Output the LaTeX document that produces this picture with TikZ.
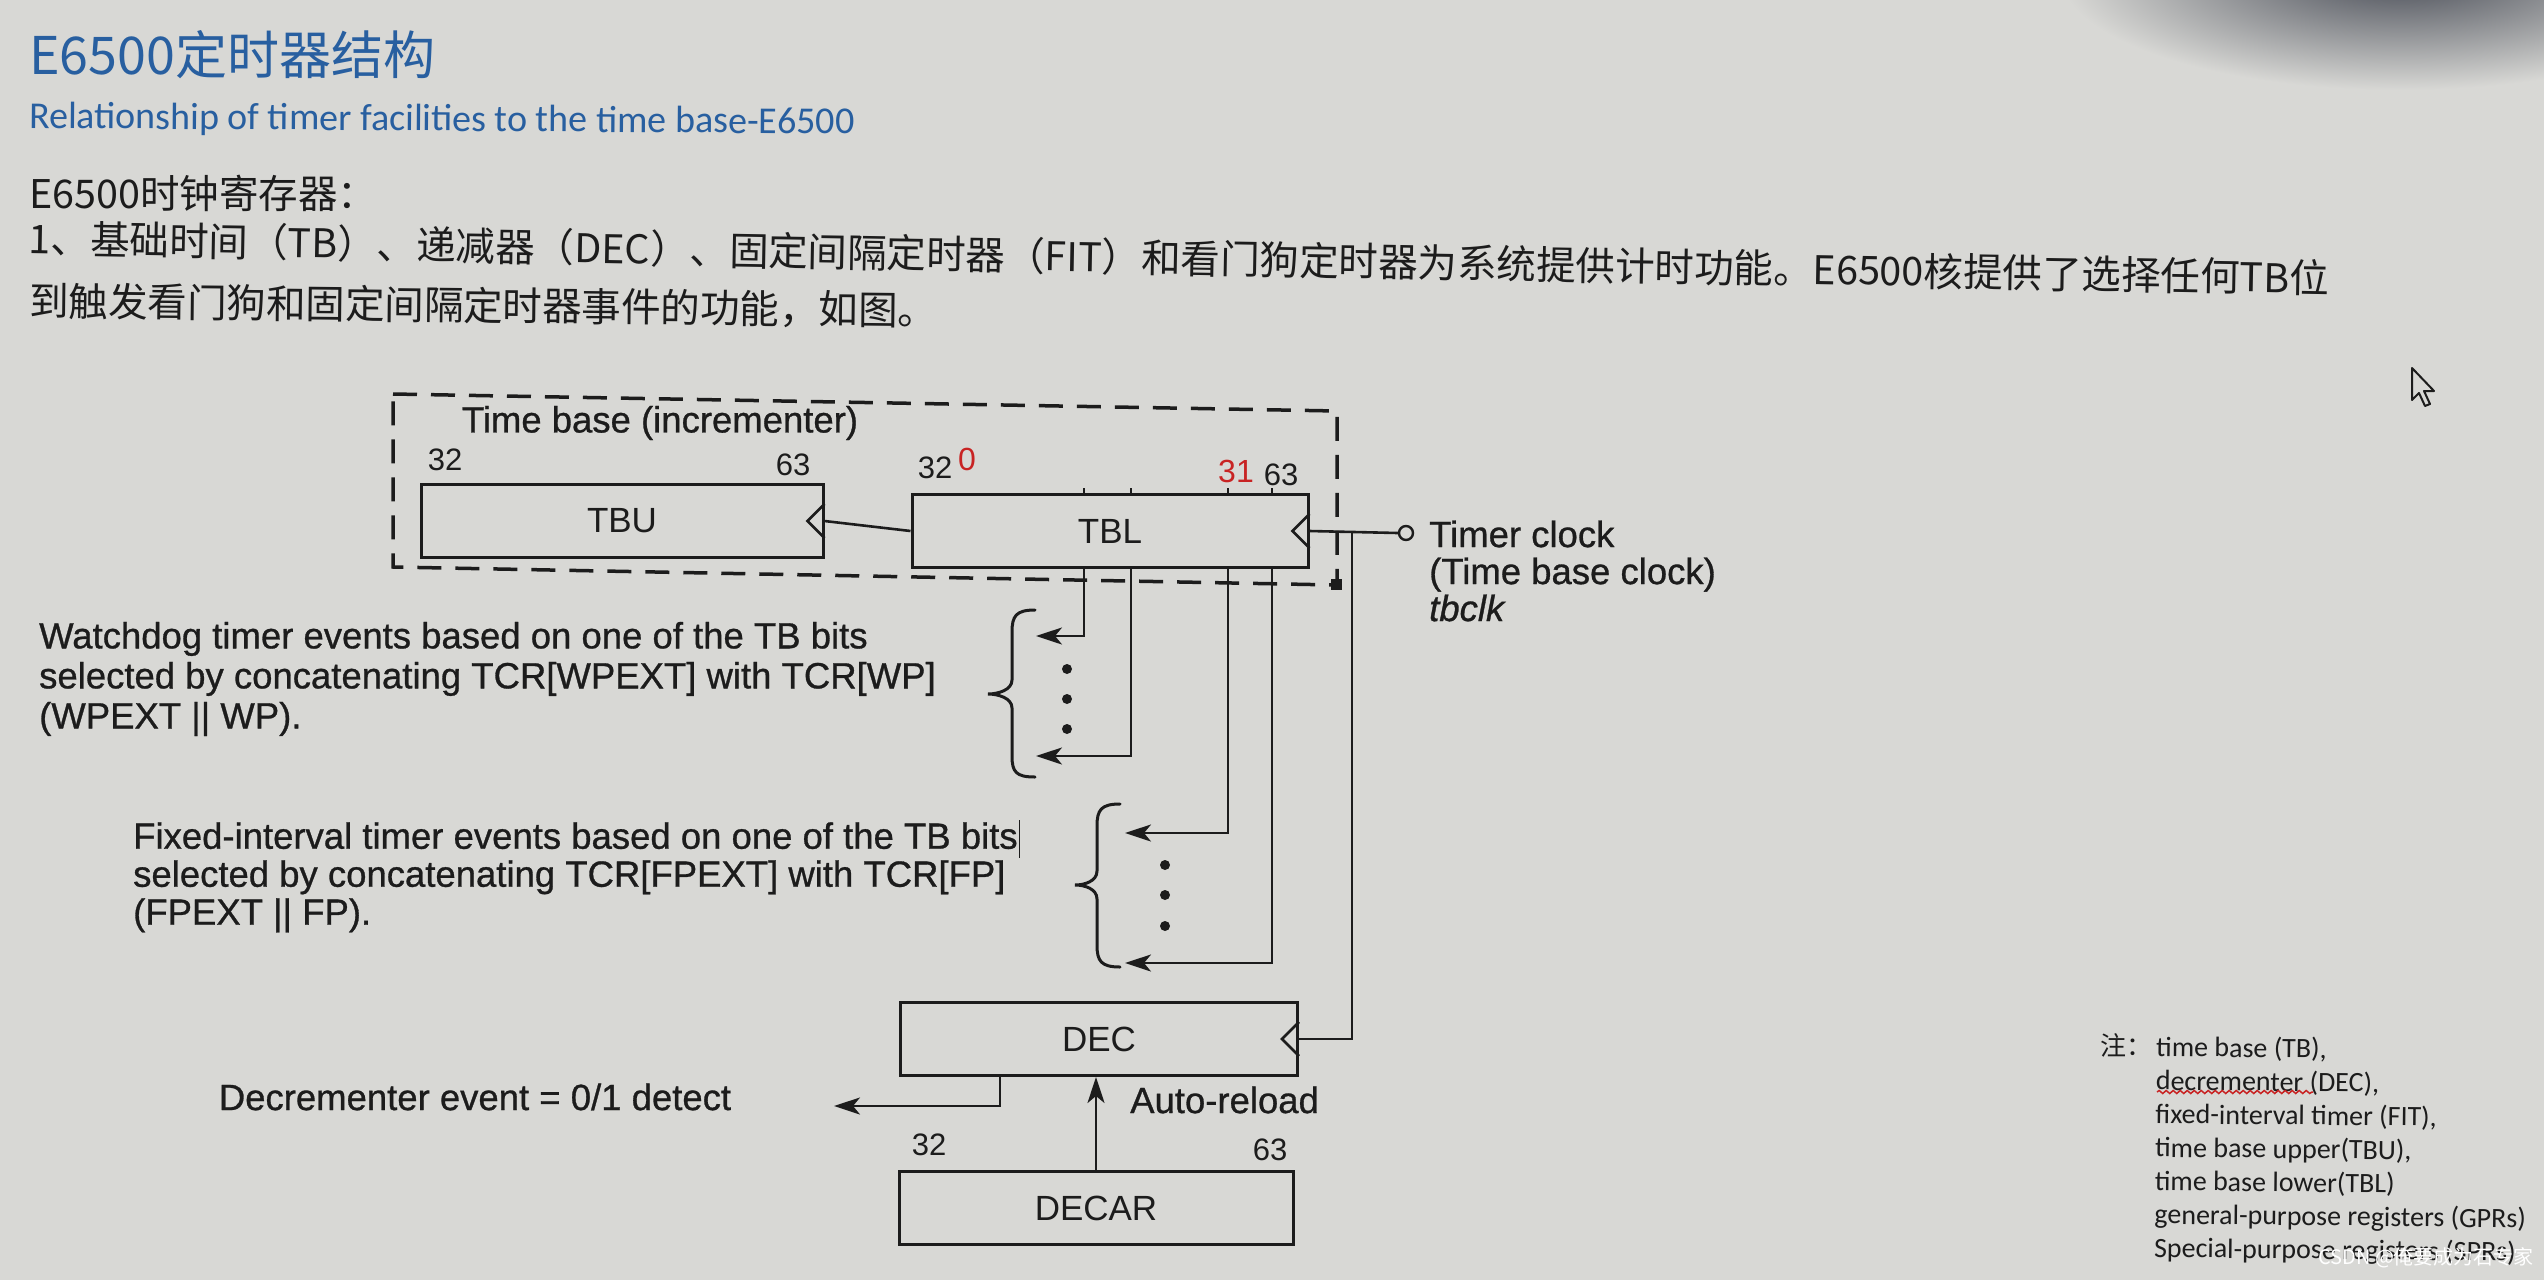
\documentclass[tikz,border=0pt]{standalone}
\usepackage{fontspec}
\setmainfont{Liberation Sans}
\newfontfamily\heavy[FakeBold=0.8]{Liberation Sans}
\newfontfamily\cjkf{Noto Sans CJK SC}
\newfontfamily\notefont{Carlito}
\usetikzlibrary{arrows.meta,decorations.pathmorphing,calc}
\definecolor{bg}{RGB}{216,216,213}
\definecolor{ink}{RGB}{28,28,28}
\definecolor{titleblue}{RGB}{40,95,160}
\definecolor{markred}{RGB}{200,35,35}
\definecolor{darkcorner}{RGB}{72,76,86}
\begin{document}
\begin{tikzpicture}[x=1pt,y=-1pt,
  reg/.style={draw=ink, line width=3pt, minimum width=#1, minimum height=73pt, inner sep=0pt, text=ink, font=\fontsize{35}{40}\selectfont},
  lbl/.style={text=ink, inner sep=0pt, font=\heavy\fontsize{36.5}{39}\selectfont},
  bitno/.style={text=ink, inner sep=0pt, font=\fontsize{31}{34}\selectfont},
  redno/.style={text=markred, inner sep=0pt, font=\fontsize{32}{34}\selectfont},
  wire/.style={draw=ink, line width=2.6pt},
  arr/.style={wire, -{Stealth[length=26pt,width=17pt,inset=7pt]}},
  dashbox/.style={draw=ink, line width=3.5pt, dash pattern=on 24pt off 14pt},
  braceline/.style={draw=ink, line width=3pt, line cap=round},
  dotm/.style={circle, fill=ink, inner sep=0pt, minimum size=10pt},
  cjkline/.style={anchor=west, inner sep=0pt, text=ink, font=\cjkf\fontsize{39.5}{44}\selectfont},
  notetext/.style={anchor=west, inner sep=0pt, align=left, text=ink, font=\notefont\fontsize{28}{33.5}\selectfont},
  clocktri/.pic={\draw[draw=ink, line width=2.6pt] (0,-17) -- (-17,0) -- (0,17);}
]
\fill[bg] (0,0) rectangle (2544,1280);
\useasboundingbox (0,0) rectangle (2544,1280);
\clip (0,0) rectangle (2544,1280);
\shade[inner color=darkcorner, outer color=bg] (2400,-25) ellipse [x radius=340pt, y radius=115pt];

% headings
\node[anchor=west, inner sep=0pt, text=titleblue, font=\cjkf\fontsize{52}{56}\selectfont] (title) at (29,55) {E6500定时器结构};
\node[anchor=west, inner sep=0pt, text=titleblue, font=\notefont\fontsize{38}{42}\selectfont, rotate=-0.4] (sub) at (29,118) {Relationship of timer facilities to the time base-E6500};
\node[cjkline] (c1) at (29,193) {E6500时钟寄存器：};
\node[cjkline, rotate=-1.0] (c2) at (29,238) {1、基础时间（TB）、递减器（DEC）、固定间隔定时器（FIT）和看门狗定时器为系统提供计时功能。E6500核提供了选择任何TB位};
\node[cjkline, rotate=-0.6] (c3) at (29,301) {到触发看门狗和固定间隔定时器事件的功能，如图。};

% time base group
\draw[dashbox] (393,394) -- (1337,411) -- (1337,585) -- (393,567) -- cycle;
\fill[ink] (1331,579) rectangle (1342,590);
\node[lbl] (tbtitle) at (660,423) {Time base (incrementer)};
\node[bitno] (tbu32) at (445,460) {32};
\node[bitno] (tbu63) at (793,465) {63};
\node[bitno] (tbl32) at (935,468) {32};
\node[redno] (red0) at (967,459) {0};
\node[redno] (red31) at (1236,471) {31};
\node[bitno] (tbl63) at (1281,475) {63};

\node[reg=402pt] (TBU) at (622,521) {TBU};
\node[reg=396pt] (TBL) at (1110,531) {TBL};
\node[reg=397pt] (DEC) at (1099,1039) {DEC};
\node[reg=394pt] (DECAR) at (1096,1208) {DECAR};
\pic at (TBU.east) {clocktri};
\pic at (TBL.east) {clocktri};
\pic at (DEC.east) {clocktri};

\draw[wire] (TBL.west) -- (TBU.east);

% timer clock
\node[circle, draw=ink, fill=bg, line width=2.4pt, minimum size=14pt, inner sep=0pt] (clk) at (1406,533) {};
\draw[wire] (TBL.east) -- (clk.west);
\draw[wire] ($(TBL.east)!0.48!(clk.west)$) |- (DEC.east);
\node[lbl, anchor=west, align=left, font=\heavy\fontsize{36.5}{37}\selectfont] (clktxt) at (1429,571) {Timer clock\\(Time base clock)\\\textit{tbclk}};

% bit taps
\coordinate (xA) at (1084,0);
\coordinate (xB) at (1131,0);
\coordinate (xC) at (1228,0);
\coordinate (xD) at (1272,0);
\foreach \c in {xA,xB,xC,xD} \draw[wire] (TBL.north -| \c) -- ++(0,-5);
\coordinate (wd1) at (1036,636);
\coordinate (wd2) at (1036,756);
\coordinate (fi1) at (1125,833);
\coordinate (fi2) at (1125,963);
\draw[arr] (TBL.south -| xA) |- (wd1);
\draw[arr] (TBL.south -| xB) |- (wd2);
\draw[arr] (TBL.south -| xC) |- (fi1);
\draw[arr] (TBL.south -| xD) |- (fi2);

% dots
\node[dotm] (wdd1) at (1067,669) {};
\node[dotm] (wdd2) at (1067,699) {};
\node[dotm] (wdd3) at (1067,729) {};
\node[dotm] (fid1) at (1165,865) {};
\node[dotm] (fid2) at (1165,895) {};
\node[dotm] (fid3) at (1165,926) {};

% braces
\draw[braceline] (1035,610) .. controls (1016,610) and (1012,616) .. (1012,632) -- (1012,680) .. controls (1012,690) and (998,694) .. (988,694) .. controls (998,694) and (1012,698) .. (1012,708) -- (1012,756) .. controls (1012,772) and (1016,777) .. (1035,777);
\draw[braceline] (1120,804) .. controls (1101,804) and (1097,810) .. (1097,826) -- (1097,871) .. controls (1097,881) and (1085,885) .. (1075,885) .. controls (1085,885) and (1097,889) .. (1097,899) -- (1097,945) .. controls (1097,961) and (1101,967) .. (1120,967);

% side texts
\node[lbl, anchor=west, align=left, font=\heavy\fontsize{36.5}{40}\selectfont] (wdtxt) at (39,679) {Watchdog timer events based on one of the TB bits\\selected by concatenating TCR[WPEXT] with TCR[WP]\\(WPEXT || WP).};
\node[lbl, anchor=west, align=left, font=\heavy\fontsize{36.5}{38}\selectfont] (fittxt) at (133,876) {Fixed-interval timer events based on one of the TB bits\kern1pt\rule[-0.25em]{1.6pt}{1.05em}\\selected by concatenating TCR[FPEXT] with TCR[FP]\\(FPEXT || FP).};

% decrementer
\coordinate (xE) at (1000,0);
\coordinate (decout) at (834,1106);
\draw[arr] (DEC.south -| xE) |- (decout);
\draw[arr] (DECAR.north) -- (DECAR.north |- DEC.south);
\node[lbl] (dectxt) at (475,1097) {Decrementer event = 0/1 detect};
\node[lbl, anchor=west] (autor) at (1130,1100) {Auto-reload};
\node[bitno] (dec32) at (929,1145) {32};
\node[bitno] (dec63) at (1270,1150) {63};

% notes
\node[anchor=west, inner sep=0pt, text=ink, font=\cjkf\fontsize{26}{28}\selectfont] (zhu) at (2100,1045) {注：};
\node[notetext, rotate=-0.6] (notes) at (2155,1149) {time base (TB),\\decrementer (DEC),\\fixed-interval timer (FIT),\\time base upper(TBU),\\time base lower(TBL)\\general-purpose registers (GPRs)\\Special-purpose registers (SPRs)};
\draw[markred, line width=1.5pt, decorate, decoration={snake, amplitude=1.5pt, segment length=7pt}] (2157,1092) -- (2313,1092);
\node[anchor=west, inner sep=0pt, text=white, font=\cjkf\fontsize{20}{22}\selectfont] (wm) at (2318,1258) {CSDN @俺要成为石专家};

% mouse pointer
\draw[ink, line width=2pt, fill=bg, line join=round] (2412,368) -- ++(0,32) -- ++(7,-7) -- ++(6,13) -- ++(5,-2) -- ++(-6,-13) -- ++(10,0) -- cycle;
\end{tikzpicture}
\end{document}
